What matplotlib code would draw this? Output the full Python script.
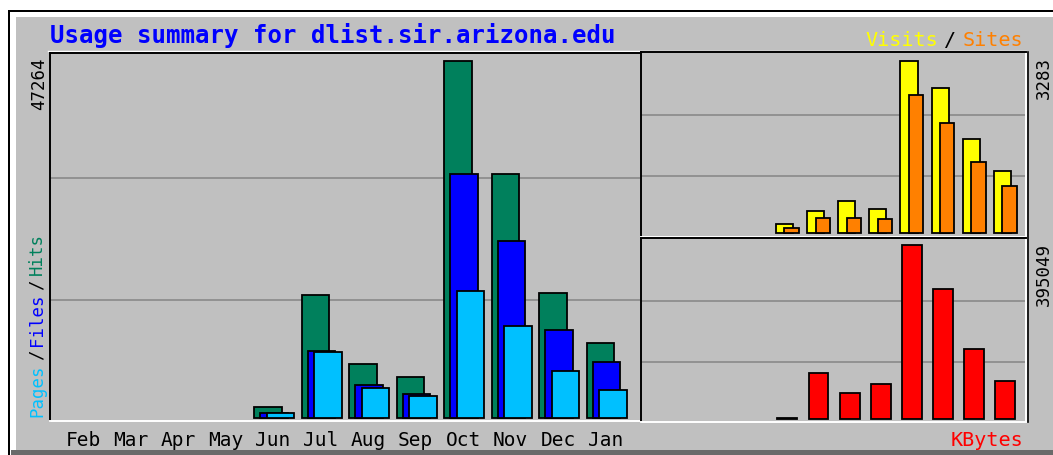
import matplotlib
matplotlib.use('Agg')
import matplotlib.pyplot as plt
from matplotlib.transforms import Affine2D, blended_transform_factory
from matplotlib.patches import Rectangle
from matplotlib.lines import Line2D

# ---------------- data ----------------
months = ['Feb', 'Mar', 'Apr', 'May', 'Jun', 'Jul', 'Aug', 'Sep', 'Oct', 'Nov', 'Dec', 'Jan']
hits = [0, 0, 0, 0, 1450, 16300, 7240, 5400, 47264, 32260, 16600, 10000]
files = [0, 0, 0, 0, 760, 8900, 4400, 3200, 32260, 23450, 11620, 7500]
pages = [0, 0, 0, 0, 650, 8800, 3950, 2900, 16900, 12270, 6320, 3730]
visits = [0, 0, 0, 0, 177, 430, 609, 456, 3283, 2777, 1800, 1191]
sites = [0, 0, 0, 0, 95, 297, 297, 266, 2631, 2104, 1362, 900]
kbytes = [0, 0, 0, 0, 3000, 103800, 58300, 78800, 395049, 294500, 158900, 86300]
title = 'Usage summary for dlist.sir.arizona.edu'

# ---------------- style ----------------
W, H = 1053, 455
GRAY = '#C0C0C0'
GRID = '#8E8E8E'
C_HITS, C_FILES, C_PAGES = '#00805C', '#0000FF', '#00C0FF'
C_VISITS, C_SITES, C_KB = '#FFFF00', '#FF8000', '#FF0000'
MONO = 'DejaVu Sans Mono'

fig = plt.figure(figsize=(W / 100, H / 100), dpi=100)
fig.patch.set_facecolor('white')
pxT = Affine2D().scale(1 / W, -1 / H).translate(0, 1) + fig.transFigure


def prect(x0, y0, x1, y1, color):
    fig.patches.append(Rectangle((x0, y0), x1 - x0, y1 - y0, transform=pxT,
                                 facecolor=color, edgecolor='none', zorder=-10))


def pline(xs, ys, color, lw=1.2, z=-5):
    fig.lines.append(Line2D(xs, ys, transform=pxT, color=color, lw=lw, zorder=z))


# outer frame
prect(8, 10, 1070, 470, 'black')
prect(9.5, 11.5, 1070, 470, 'white')
prect(16, 17, 1070, 450, GRAY)
prect(11, 450, 1070, 470, '#6A6A6A')
# highlight line above panels, dark outer edge on the right
pline([48, 1026], [51.0, 51.0], 'white', 1.0)
pline([1027.8, 1027.8], [52, 422], 'black', 1.2)


def add_ax(x0, y0, x1, y1):
    ax = fig.add_axes([x0 / W, 1 - y1 / H, (x1 - x0) / W, (y1 - y0) / H])
    ax.set_facecolor(GRAY)
    ax.set_xticks([])
    ax.set_yticks([])
    for s in ('left', 'top'):
        ax.spines[s].set_color('black')
        ax.spines[s].set_linewidth(1.4)
    for s in ('right', 'bottom'):
        ax.spines[s].set_color('white')
        ax.spines[s].set_linewidth(1.4)
    for f in (0.328, 0.66):
        ax.plot([0, 1], [f, f], transform=ax.transAxes, color=GRID, lw=1.3, zorder=1)
    return ax


def bars(ax, vals, off, w, color, z):
    xs = [i + off for i, v in enumerate(vals) if v > 0]
    hs = [v for v in vals if v > 0]
    ax.bar(xs, hs, width=w, align='edge', color=color, edgecolor='black',
           linewidth=1.3, zorder=z)


# main panel
axm = add_ax(50, 53, 641, 421)
slot_m = 47.5
axm.set_xlim(-33 / slot_m, (641 - 83) / slot_m)
sc = max(hits) / 357.3
axm.set_ylim(-2.7 * sc, 365.3 * sc)
bars(axm, hits, -0.40, 0.58, C_HITS, 3)
bars(axm, files, -0.27, 0.58, C_FILES, 4)
bars(axm, pages, -0.135, 0.58, C_PAGES, 5)

# visits / sites panel
R = 1026.3
axv = add_ax(641, 52, R, 236.7)
slot_r = 31.15
axv.set_xlim(-22 / slot_r, (R - 663.1) / slot_r)
sv = max(visits) / 172.6
axv.set_ylim(-3.4 * sv, 181.6 * sv)
bars(axv, visits, -0.38, 0.55, C_VISITS, 3)
bars(axv, sites, -0.105, 0.46, C_SITES, 4)

# kbytes panel
axk = add_ax(641, 238.3, R, 422)
axk.set_xlim(-22 / slot_r, (R - 663.1) / slot_r)
sk = max(kbytes) / 174.0
axk.set_ylim(-3.0 * sk, 180.7 * sk)
bars(axk, kbytes, -0.33, 0.64, C_KB, 3)

# ---------------- text ----------------
fig.text(50, 43, title, transform=pxT, ha='left', va='baseline',
         color='#0000FF', fontfamily=MONO, fontweight='bold', fontsize=17.3)

bt = blended_transform_factory(axm.transData, pxT)
for i, m in enumerate(months):
    fig.text(i, 446.5, m, transform=bt, ha='center', va='baseline',
             color='black', fontfamily=MONO, fontsize=14)

fig.text(39, 57, f'{max(hits)}', transform=pxT, rotation=90, ha='center', va='top',
         color='black', fontfamily=MONO, fontsize=12.5)
fig.text(1044, 57, f'{max(visits)}', transform=pxT, rotation=90, ha='center', va='top',
         color='black', fontfamily=MONO, fontsize=12.5)
fig.text(1044, 243, f'{max(kbytes)}', transform=pxT, rotation=90, ha='center', va='top',
         color='black', fontfamily=MONO, fontsize=12.5)

renderer = fig.canvas.get_renderer()

# vertical legend, bottom to top
y = 417
for s, c in [('Pages', C_PAGES), ('/', 'black'), ('Files', C_FILES), ('/', 'black'), ('Hits', C_HITS)]:
    t = fig.text(37, y, s, transform=pxT, rotation=90, ha='center', va='bottom',
                 color=c, fontfamily=MONO, fontsize=12.5)
    ext = t.get_window_extent(renderer)
    y = (H - ext.y1) - 4

# visits / sites, right-aligned
x = 1023
for s, c in reversed([('Visits', C_VISITS), ('/', 'black'), ('Sites', C_SITES)]):
    t = fig.text(x, 46, s, transform=pxT, ha='right', va='baseline',
                 color=c, fontfamily=MONO, fontsize=14.5)
    ext = t.get_window_extent(renderer)
    x = ext.x0 - 6

fig.text(1023, 446.5, 'KBytes', transform=pxT, ha='right', va='baseline',
         color=C_KB, fontfamily=MONO, fontsize=14.5)

fig.savefig('out.png', dpi=100, facecolor=fig.get_facecolor())
